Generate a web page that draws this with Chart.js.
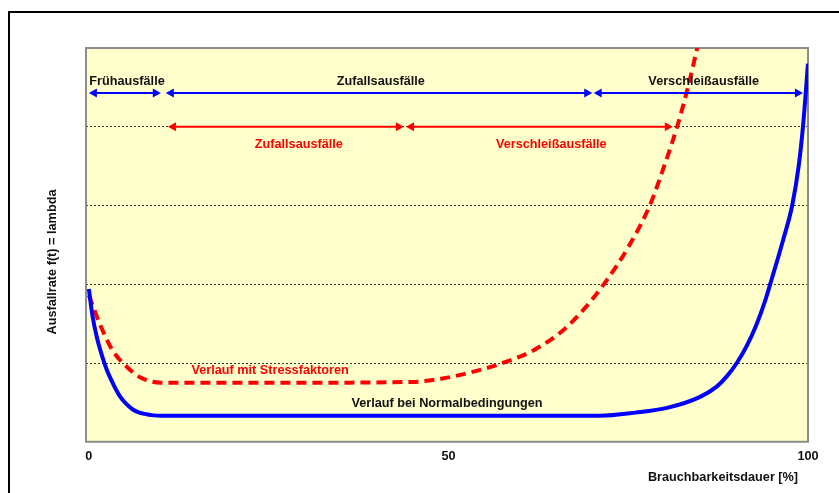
<!DOCTYPE html>
<html>
<head>
<meta charset="utf-8">
<script src="https://cdn.jsdelivr.net/npm/chart.js@4"></script>
<style>
  html, body { margin: 0; padding: 0; background: #ffffff; }
  #wrap { position: relative; width: 839px; height: 493px; overflow: hidden; }
  #frame { position: absolute; left: 8px; top: 11px; width: 900px; height: 600px;
           border-left: 2px solid #000; border-top: 2px solid #000; }
  canvas { position: absolute; left: 0; top: 0; }
</style>
</head>
<body>
<div id="wrap">
  <div id="frame"></div>
  <canvas id="failureChart" width="839" height="493"></canvas>
</div>
<script>
// Curve under normal conditions (x = usable life in %, y = failure rate)
const normalX = [0, 0.5, 1.1, 1.8, 2.5, 3.4, 4.3, 5.2, 6.1, 7, 8, 9, 10, 40, 71, 76, 80.4, 85, 87.3, 88.7, 90.1, 91.5, 92.8, 94, 95, 96.5, 97.8, 98.7, 99.3, 100];
const normalY = [1.94, 1.6, 1.33, 1.1, 0.91, 0.73, 0.58, 0.48, 0.41, 0.37, 0.35, 0.335, 0.33, 0.33, 0.33, 0.37, 0.43, 0.57, 0.70, 0.83, 1.0, 1.22, 1.48, 1.78, 2.08, 2.55, 3.0, 3.5, 4.0, 4.8];

// Curve with stress factors
const stressX = [0, 1.5, 3.3, 5.3, 7.1, 10, 30, 45, 49, 52.6, 57.2, 61.8, 66, 69, 72, 75, 78, 80, 81.8, 83.3, 84.6, 86];
const stressY = [1.86, 1.5, 1.16, 0.95, 0.82, 0.75, 0.75, 0.76, 0.8, 0.87, 0.99, 1.16, 1.42, 1.7, 2.05, 2.47, 3.0, 3.5, 4.0, 4.5, 5.0, 5.55];

const xTicks = [0, 50, 100];

// Phase arrows: [from, to] on the x axis, at height arrowY
const blueArrowY = 4.43;
const blueArrows = [[0, 10], [10.7, 70], [70.2, 99.3]];
const redArrowY = 4.0;
const redArrows = [[11, 43.8], [44.1, 81.2]];

// Labels: [text, x, y]
const blackLabels = [
    ['Frühausfälle', 5.3, 4.58],
    ['Zufallsausfälle', 40.6, 4.58],
    ['Verschleißausfälle', 85.5, 4.58],
    ['Verlauf bei Normalbedingungen', 49.8, 0.49]
];
const redLabels = [
    ['Zufallsausfälle', 29.2, 3.78],
    ['Verschleißausfälle', 64.3, 3.78],
    ['Verlauf mit Stressfaktoren', 25.2, 0.91]
];

const FONT = 'bold 12.7px "Liberation Sans", Arial, sans-serif';

function toPoints(xs, ys) {
    return xs.map((x, i) => ({ x: x, y: ys[i] }));
}

function arrowHead(ctx, x, y, dir) {
    // dir = -1 points left, +1 points right
    ctx.beginPath();
    ctx.moveTo(x, y);
    ctx.lineTo(x - dir * 8, y - 4.5);
    ctx.lineTo(x - dir * 8, y + 4.5);
    ctx.closePath();
    ctx.fill();
}

const decorPlugin = {
    id: 'decor',
    beforeDraw(chart) {
        const a = chart.chartArea, ctx = chart.ctx;
        ctx.save();
        ctx.fillStyle = '#FFFFCC';
        ctx.fillRect(a.left, a.top, a.right - a.left, a.bottom - a.top);
        ctx.restore();
    },
    beforeDatasetsDraw(chart) {
        const a = chart.chartArea, ctx = chart.ctx;
        ctx.save();
        ctx.strokeStyle = '#8c8c8c';
        ctx.lineWidth = 2;
        ctx.strokeRect(a.left, a.top, a.right - a.left, a.bottom - a.top);
        ctx.restore();
    },
    afterDatasetsDraw(chart) {
        const ctx = chart.ctx, xs = chart.scales.x, ys = chart.scales.y;
        ctx.save();
        function drawArrows(list, yv, color) {
            const py = ys.getPixelForValue(yv);
            ctx.strokeStyle = color;
            ctx.fillStyle = color;
            ctx.lineWidth = 2;
            list.forEach(seg => {
                const x1 = xs.getPixelForValue(seg[0]);
                const x2 = xs.getPixelForValue(seg[1]);
                ctx.beginPath();
                ctx.moveTo(x1 + 4, py);
                ctx.lineTo(x2 - 4, py);
                ctx.stroke();
                arrowHead(ctx, x1, py, -1);
                arrowHead(ctx, x2, py, 1);
            });
        }
        drawArrows(blueArrows, blueArrowY, '#0000FF');
        drawArrows(redArrows, redArrowY, '#FF0000');

        ctx.font = FONT;
        ctx.textAlign = 'center';
        ctx.textBaseline = 'middle';
        ctx.fillStyle = '#111111';
        blackLabels.forEach(l => ctx.fillText(l[0], xs.getPixelForValue(l[1]), ys.getPixelForValue(l[2])));
        ctx.fillStyle = '#FF0000';
        redLabels.forEach(l => ctx.fillText(l[0], xs.getPixelForValue(l[1]), ys.getPixelForValue(l[2])));

        // axis titles
        ctx.fillStyle = '#111111';
        ctx.fillText('Brauchbarkeitsdauer [%]', 723, 477);
        ctx.translate(52, 262);
        ctx.rotate(-Math.PI / 2);
        ctx.fillText('Ausfallrate f(t) = lambda', 0, 0);
        ctx.restore();
    }
};

const ctx = document.getElementById('failureChart').getContext('2d');
const failureChart = new Chart(ctx, {
    type: 'scatter',
    data: {
        datasets: [
            {
                label: 'Verlauf bei Normalbedingungen',
                data: toPoints(normalX, normalY),
                showLine: true,
                borderColor: '#0000FF',
                borderWidth: 4,
                pointRadius: 0,
                cubicInterpolationMode: 'monotone'
            },
            {
                label: 'Verlauf mit Stressfaktoren',
                data: toPoints(stressX, stressY),
                showLine: true,
                borderColor: '#FF0000',
                borderWidth: 4,
                borderDash: [10, 6],
                pointRadius: 0,
                cubicInterpolationMode: 'monotone',
                clip: 0
            }
        ]
    },
    options: {
        responsive: false,
        animation: false,
        devicePixelRatio: 1,
        layout: { padding: { left: 86, top: 48, right: 31, bottom: 22 } },
        plugins: {
            legend: { display: false },
            tooltip: { enabled: false }
        },
        scales: {
            x: {
                type: 'linear',
                min: -0.4,
                max: 100,
                afterBuildTicks: axis => { axis.ticks = xTicks.map(v => ({ value: v })); },
                grid: { display: false, drawTicks: false },
                border: { display: false },
                ticks: {
                    padding: 7,
                    color: '#111111',
                    font: { family: '"Liberation Sans", Arial, sans-serif', size: 12.7, weight: 'bold' },
                    maxRotation: 0,
                    autoSkip: false
                }
            },
            y: {
                type: 'linear',
                min: 0,
                max: 5,
                ticks: { display: false, stepSize: 1 },
                grid: {
                    drawTicks: false,
                    lineWidth: 1,
                    color: c => (c.tick && c.tick.value > 0 && c.tick.value < 5) ? '#333333' : 'rgba(0,0,0,0)'
                },
                border: { display: false, dash: [2, 2] }
            }
        }
    },
    plugins: [decorPlugin]
});
</script>
</body>
</html>
